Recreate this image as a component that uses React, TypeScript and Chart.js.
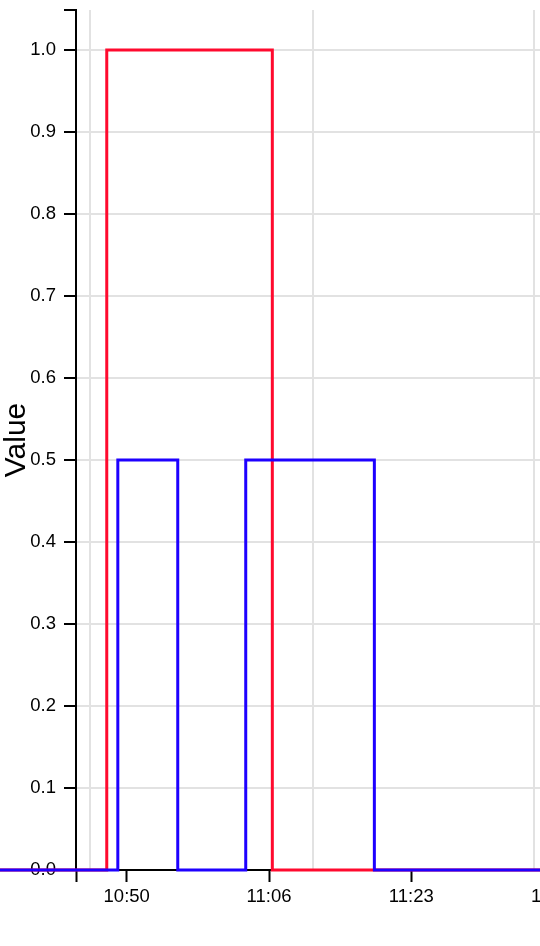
import React, { useEffect, useRef } from 'react';
import { Chart, registerables } from 'chart.js';

Chart.register(...registerables);

// ---- data ----
const RED_TIMES = ['10:30:00', '10:47:26', '11:06:38', '11:50:00'];
const RED_VALUES = [0, 1, 0, 0];
const BLUE_TIMES = ['10:30:00', '10:48:43', '10:55:40', '11:03:33', '11:18:28', '11:50:00'];
const BLUE_VALUES = [0, 0.5, 0, 0.5, 0, 0];

const X_RANGE = ['10:43:52', '11:44:38'];
const X_TICK_TIMES = ['10:49:45', '11:06:15', '11:22:45', '11:39:15'];
const X_TICK_LABELS = ['10:50', '11:06', '11:23', '11:39'];
const X_GRID_TIMES = ['10:45:29', '11:11:21', '11:36:59'];

const Y_TICKS = [0, 0.1, 0.2, 0.3, 0.4, 0.5, 0.6, 0.7, 0.8, 0.9, 1.0];
const Y_MAX = 1.0488;
const Y_TITLE = 'Value';

// ---- style ----
const RED = '#ff0a2e';
const BLUE = '#1e00ff';
const GRID = '#e2e2e2';
const FONT = '"Liberation Sans", Arial, Helvetica, sans-serif';
const TICK_FONT = { family: FONT, size: 18.5 };

function toMin(t: string): number {
  const [h, m, s] = t.split(':').map(Number);
  return h * 60 + m + (s || 0) / 60;
}

export default function App() {
  const ref = useRef<HTMLCanvasElement>(null);

  useEffect(() => {
    const canvas = ref.current!;
    const xMin = toMin(X_RANGE[0]);
    const xMax = toMin(X_RANGE[1]);

    const chart = new Chart(canvas, {
      type: 'line',
      data: {
        datasets: [
          {
            label: 'Blue',
            data: BLUE_TIMES.map((t, i) => ({ x: toMin(t), y: BLUE_VALUES[i] })),
            borderColor: BLUE,
            backgroundColor: BLUE,
            borderWidth: 3,
            pointRadius: 0,
            stepped: 'before',
            clip: false as any,
            fill: false,
          },
          {
            label: 'Red',
            data: RED_TIMES.map((t, i) => ({ x: toMin(t), y: RED_VALUES[i] })),
            borderColor: RED,
            backgroundColor: RED,
            borderWidth: 3,
            pointRadius: 0,
            stepped: 'before',
            clip: false as any,
            fill: false,
          },
        ],
      },
      options: {
        animation: false,
        responsive: false,
        events: [],
        layout: { padding: { top: 10, left: 0, right: 0, bottom: 0 } },
        plugins: { legend: { display: false }, tooltip: { enabled: false } },
        scales: {
          x: {
            type: 'linear',
            position: 'bottom',
            min: xMin,
            max: xMax,
            afterBuildTicks: (s: any) => {
              s.ticks = [xMin, ...X_TICK_TIMES.map(toMin)].map((v) => ({ value: v }));
            },
            afterFit: (s: any) => {
              s.height = 76;
            },
            grid: {
              drawOnChartArea: false,
              drawTicks: true,
              tickLength: 12,
              tickColor: '#000',
              tickWidth: 2,
            },
            border: { display: true, color: '#000', width: 2 },
            ticks: {
              autoSkip: false,
              maxRotation: 0,
              minRotation: 0,
              padding: 4,
              color: '#000',
              font: TICK_FONT,
              callback: (_v: any, i: number) => (i === 0 ? '' : X_TICK_LABELS[i - 1]),
            },
          },
          x2: {
            type: 'linear',
            position: 'bottom',
            min: xMin,
            max: xMax,
            afterBuildTicks: (s: any) => {
              s.ticks = X_GRID_TIMES.map(toMin).map((v) => ({ value: v }));
            },
            afterFit: (s: any) => {
              s.height = 0;
            },
            grid: { color: GRID, lineWidth: 2, drawTicks: false },
            border: { display: false },
            ticks: { display: false },
          },
          y: {
            type: 'linear',
            min: 0,
            max: Y_MAX,
            afterBuildTicks: (s: any) => {
              s.ticks = [...Y_TICKS, Y_MAX].map((v) => ({ value: v }));
            },
            afterFit: (s: any) => {
              s.width = 76;
            },
            grid: {
              color: (ctx: any) => (ctx.tick && ctx.tick.value > 1.0001 ? 'rgba(0,0,0,0)' : GRID),
              lineWidth: 2,
              tickLength: 12,
              tickColor: '#000',
              tickWidth: 2,
            },
            border: { display: true, color: '#000', width: 2 },
            ticks: {
              padding: 8,
              color: '#000',
              font: (ctx: any) =>
                ctx.tick && ctx.tick.value > 1.0001 ? { family: FONT, size: 1, lineHeight: 1 } : TICK_FONT,
              callback: (v: any) => (Number(v) > 1.0001 ? '' : Number(v).toFixed(1)),
            },
            title: {
              display: true,
              text: Y_TITLE,
              color: '#000',
              font: { family: FONT, size: 30, lineHeight: 1 },
              padding: { top: 2, bottom: 0 },
            },
          },
        },
      } as any,
    });

    return () => chart.destroy();
  }, []);

  return (
    <div
      style={{
        position: 'absolute',
        left: 0,
        top: 0,
        width: 540,
        height: 946,
        overflow: 'hidden',
        background: '#fff',
      }}
    >
      <canvas ref={ref} width={600} height={946} style={{ width: 600, height: 946, display: 'block' }} />
    </div>
  );
}
